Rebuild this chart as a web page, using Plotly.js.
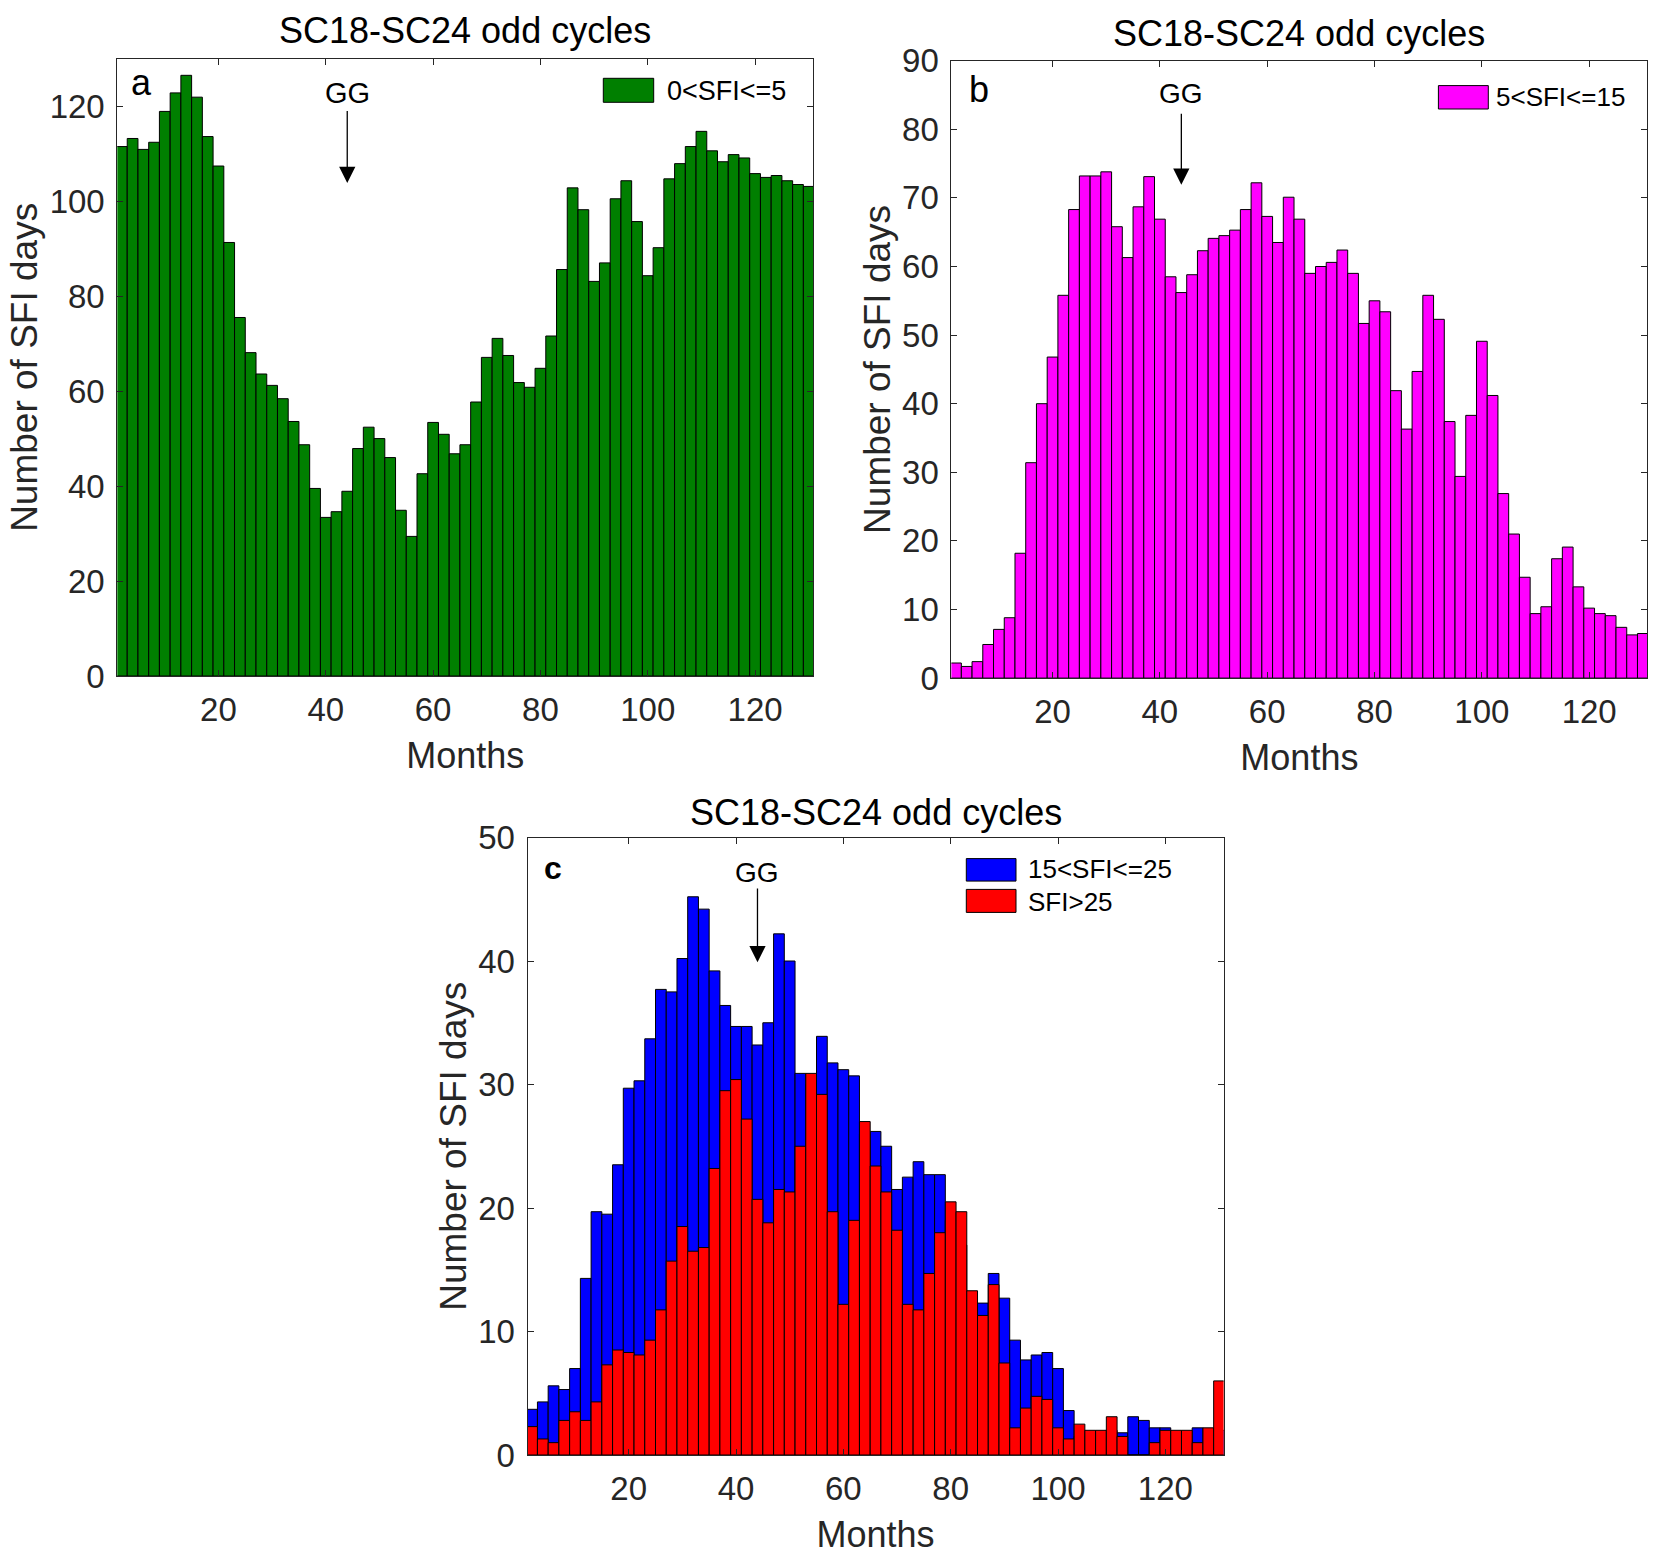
<!DOCTYPE html>
<html>
<head>
<meta charset="utf-8">
<script src="https://cdn.plot.ly/plotly-3.0.1.min.js"></script>
<style>
  body { margin: 0; background: #fff }
  #graph { width: 1672px; height: 1564px }
</style>
</head>
<body>
<div id="graph"></div>
<script>
// bin centres, 2-month bins
const months = [2, 4, 6, 8, 10, 12, 14, 16, 18, 20, 22, 24, 26, 28, 30, 32, 34, 36, 38, 40,
    42, 44, 46, 48, 50, 52, 54, 56, 58, 60, 62, 64, 66, 68, 70, 72, 74, 76, 78, 80,
    82, 84, 86, 88, 90, 92, 94, 96, 98, 100, 102, 104, 106, 108, 110, 112, 114, 116, 118, 120,
    122, 124, 126, 128, 130]

// panel a: 0<SFI<=5
const daysLow = [111.5, 113.2, 110.9, 112.4, 118.9, 122.8, 126.5, 121.9, 113.6, 107.4,
    91.3, 75.5, 68.1, 63.6, 61.2, 58.4, 53.6, 48.7, 39.5, 33.4,
    34.6, 38.9, 47.9, 52.4, 50.0, 46.0, 34.9, 29.4, 42.6, 53.4,
    50.9, 46.8, 48.7, 57.7, 67.1, 71.1, 67.5, 61.8, 60.8, 64.8,
    71.6, 85.6, 102.8, 98.2, 83.1, 87.0, 100.5, 104.3, 95.7, 84.3,
    90.2, 104.7, 107.9, 111.5, 114.7, 110.6, 108.3, 109.8, 109.1, 105.8,
    105.0, 105.4, 104.3, 103.5, 103.1]

// panel b: 5<SFI<=15
const daysMid = [2.2, 1.7, 2.4, 4.9, 7.1, 8.8, 18.2, 31.4, 40.0, 46.8,
    55.8, 68.3, 73.2, 73.2, 73.8, 65.8, 61.3, 68.7, 73.1, 66.9,
    58.5, 56.2, 58.8, 62.3, 64.1, 64.5, 65.3, 68.3, 72.2, 67.3,
    63.5, 70.1, 66.9, 59.0, 60.0, 60.6, 62.4, 59.0, 51.7, 55.0,
    53.4, 41.9, 36.3, 44.7, 55.8, 52.3, 37.4, 29.4, 38.3, 49.1,
    41.2, 26.9, 21.0, 14.7, 9.4, 10.4, 17.4, 19.1, 13.3, 10.2,
    9.4, 9.1, 7.4, 6.3, 6.5]

// panel c: 15<SFI<=25 (drawn first) and SFI>25 (drawn over it)
const daysHigh = [3.7, 4.3, 5.6, 5.3, 7.0, 14.3, 19.7, 19.5, 23.5, 29.7,
    30.3, 33.7, 37.7, 37.5, 40.2, 45.2, 44.2, 39.2, 36.4, 34.7,
    34.7, 33.2, 35.0, 42.2, 40.0, 30.9, 30.0, 33.9, 31.75, 31.2,
    30.7, 26.0, 26.2, 25.0, 21.5, 22.5, 23.75, 22.7, 22.7, 19.0,
    17.0, 11.0, 12.3, 14.7, 12.7, 9.3, 7.7, 8.1, 8.3, 7.0,
    3.6, 1.5, 1.0, 1.5, 2.0, 1.8, 3.1, 2.8, 2.2, 2.2,
    1.0, 1.5, 2.2, 1.0, 2.0]
const daysTop = [2.3, 1.3, 1.0, 2.8, 3.5, 2.8, 4.3, 7.3, 8.5, 8.3,
    8.1, 9.3, 11.75, 15.7, 18.5, 16.5, 16.8, 23.2, 29.5, 30.4,
    27.2, 20.7, 18.8, 21.5, 21.3, 25.0, 30.9, 29.2, 19.7, 12.2,
    19.0, 27.0, 23.4, 21.3, 18.2, 12.2, 11.75, 14.7, 18.0, 20.5,
    19.7, 13.3, 11.3, 13.8, 7.45, 2.2, 3.8, 4.75, 4.5, 2.2,
    1.3, 2.5, 2.0, 2.0, 3.1, 1.5, 0, 0, 1.0, 2.0,
    2.0, 2.0, 1.0, 2.2, 6.0]

const monthTicks = [20, 40, 60, 80, 100, 120]
const ggMonth = 44
// [tail, head] of the GG arrow in each panel, in counts
const ggArrowA = [119.3, 103.8]
const ggArrowB = [82.5, 71.9]
const ggArrowC = [46.0, 39.9]

const W = 1672
const H = 1564
const px = x => x / W
const py = y => 1 - y / H

const FONT = "Liberation Sans, Arial, sans-serif"
const AXIS_COLOR = "#262626"

function bars(y, color, xa, ya) {
    return {
        type: "bar",
        x: months,
        y: y,
        width: 2,
        marker: { color: color, line: { color: "#000", width: 1 } },
        xaxis: xa,
        yaxis: ya,
        showlegend: false,
        hoverinfo: "x+y"
    }
}

function xAxis(left, right, anchor) {
    return {
        domain: [px(left), px(right)],
        anchor: anchor,
        range: [1.15, 130.85],
        tickvals: monthTicks,
        ticks: "inside",
        ticklen: 6,
        tickwidth: 1,
        tickcolor: AXIS_COLOR,
        showline: true,
        linecolor: AXIS_COLOR,
        linewidth: 1,
        mirror: "ticks",
        showgrid: false,
        zeroline: false,
        ticklabelstandoff: 4,
        tickfont: { family: FONT, size: 33, color: AXIS_COLOR },
        title: { text: "Months", standoff: 16, font: { family: FONT, size: 36, color: AXIS_COLOR } }
    }
}

function yAxis(top, bottom, anchor, maxVal, step) {
    return {
        domain: [py(bottom), py(top)],
        anchor: anchor,
        range: [0, maxVal],
        tick0: 0,
        dtick: step,
        ticks: "inside",
        ticklen: 6,
        tickwidth: 1,
        tickcolor: AXIS_COLOR,
        showline: true,
        linecolor: AXIS_COLOR,
        linewidth: 1,
        mirror: "ticks",
        showgrid: false,
        zeroline: false,
        ticklabelstandoff: 5,
        tickfont: { family: FONT, size: 33, color: AXIS_COLOR },
        title: { text: "Number of SFI days", standoff: 0, font: { family: FONT, size: 37, color: AXIS_COLOR } }
    }
}

function label(text, x, y, size, anchor, bold) {
    return {
        xref: "paper", yref: "paper",
        x: px(x), y: py(y),
        xanchor: anchor, yanchor: "middle",
        text: bold ? "<b>" + text + "</b>" : text,
        showarrow: false,
        font: { family: FONT, size: size, color: "#000" }
    }
}

function ggArrow(xa, ya, tailHead) {
    return {
        xref: xa, yref: ya, axref: xa, ayref: ya,
        x: ggMonth, y: tailHead[1],
        ax: ggMonth, ay: tailHead[0],
        text: "",
        showarrow: true,
        arrowhead: 2,
        arrowsize: 2.5,
        arrowwidth: 1.3,
        arrowcolor: "#000"
    }
}

function ggText(xa, ya, value, size) {
    return {
        xref: xa, yref: ya,
        x: ggMonth, y: value,
        xanchor: "center", yanchor: "middle",
        text: "GG",
        showarrow: false,
        font: { family: FONT, size: size, color: "#000" }
    }
}

function patch(x0, x1, y0, y1, color) {
    return {
        type: "rect", xref: "paper", yref: "paper",
        x0: px(x0), x1: px(x1), y0: py(y1), y1: py(y0),
        fillcolor: color,
        line: { color: "#000", width: 1 }
    }
}

const traces = [
    bars(daysLow, "#007f00", "x", "y"),
    bars(daysMid, "#ff00ff", "x2", "y2"),
    bars(daysHigh, "#0000ff", "x3", "y3"),
    bars(daysTop, "#ff0000", "x3", "y3")
]

const layout = {
    width: W,
    height: H,
    margin: { l: 0, r: 0, t: 0, b: 0 },
    paper_bgcolor: "#fff",
    plot_bgcolor: "#fff",
    barmode: "overlay",
    bargap: 0,
    showlegend: false,
    font: { family: FONT, color: AXIS_COLOR },
    xaxis: xAxis(117.3, 813.3, "y"),
    yaxis: yAxis(58.7, 676, "x", 130, 20),
    xaxis2: xAxis(951.4, 1647.4, "y2"),
    yaxis2: yAxis(60.7, 678.1, "x2", 90, 10),
    xaxis3: xAxis(527.5, 1223.6, "y3"),
    yaxis3: yAxis(837.5, 1455, "x3", 50, 10),
    shapes: [
        patch(603.3, 653.7, 78.3, 102.3, "#007f00"),
        patch(1438.4, 1488.3, 85.6, 109, "#ff00ff"),
        patch(966.3, 1016, 858.6, 881.1, "#0000ff"),
        patch(966.3, 1016, 889.4, 912.4, "#ff0000")
    ],
    annotations: [
        label("SC18-SC24 odd cycles", 465.3, 30.8, 36, "center"),
        label("SC18-SC24 odd cycles", 1299.4, 33.9, 36, "center"),
        label("SC18-SC24 odd cycles", 875.5, 812.1, 36, "center"),
        label("a", 129, 82.4, 36, "left"),
        label("b", 967, 89.4, 36, "left"),
        label("c", 542, 867.6, 32, "left", true),
        label("0&lt;SFI&lt;=5", 665, 90.9, 27, "left"),
        label("5&lt;SFI&lt;=15", 1494, 96.9, 26, "left"),
        label("15&lt;SFI&lt;=25", 1025.5, 868.5, 26, "left"),
        label("SFI&gt;25", 1025.5, 902, 26, "left"),
        ggText("x", "y", 122.8, 29),
        ggText("x2", "y2", 85.2, 28),
        ggText("x3", "y3", 47.2, 28),
        ggArrow("x", "y", ggArrowA),
        ggArrow("x2", "y2", ggArrowB),
        ggArrow("x3", "y3", ggArrowC)
    ]
}

Plotly.newPlot("graph", traces, layout, { staticPlot: true })
</script>
</body>
</html>
